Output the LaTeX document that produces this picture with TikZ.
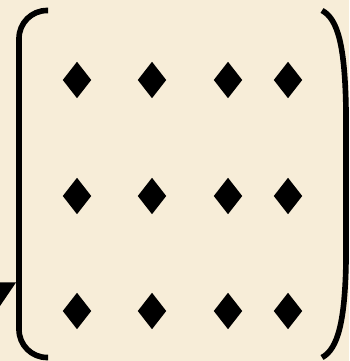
\documentclass[tikz,border=0pt]{standalone}
\usepackage{tikz}
\usetikzlibrary{shapes.geometric}
\usepackage{xcolor}
\definecolor{paper}{HTML}{F7EDD8}

\tikzset{gem/.style={diamond,fill=black,inner sep=0pt,minimum width=0.29cm,minimum height=0.37cm}}

\begin{document}
\begin{tikzpicture}
\fill[paper] (0,0) rectangle (3.49,3.61);
\useasboundingbox (0,0) rectangle (3.49,3.61);

\draw[line width=1.6pt,rounded corners=0.28cm] (0.48,3.505)--(0.19,3.505)--(0.19,0.035)--(0.48,0.035);
\draw[line width=1.6pt] (3.22,3.505) .. controls (3.38,3.42) and (3.45,3.15) .. (3.46,2.5)--(3.46,1.0) .. controls (3.45,0.4) and (3.38,0.12) .. (3.22,0.035);
\fill (0,0.785)--(0.16,0.785)--(0,0.55)--cycle;

\node[gem] (a1) at (0.77,2.81) {};
\node[gem] (a2) at (1.52,2.81) {};
\node[gem] (a3) at (2.28,2.81) {};
\node[gem] (a4) at (2.88,2.81) {};

\node[gem] (b1) at (0.77,1.65) {};
\node[gem] (b2) at (1.52,1.65) {};
\node[gem] (b3) at (2.28,1.65) {};
\node[gem] (b4) at (2.88,1.65) {};

\node[gem] (c1) at (0.77,0.50) {};
\node[gem] (c2) at (1.52,0.50) {};
\node[gem] (c3) at (2.28,0.50) {};
\node[gem] (c4) at (2.88,0.50) {};
\end{tikzpicture}
\end{document}
